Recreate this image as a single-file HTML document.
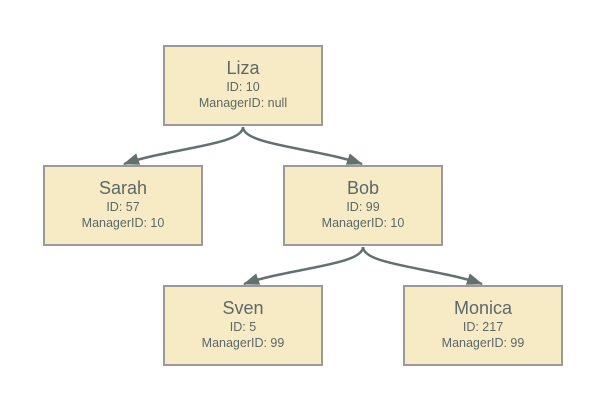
<!DOCTYPE html>
<html><head><style>
body{margin:0;width:595px;height:406px;background:#fff;position:relative;font-family:"Liberation Sans",sans-serif;color:#5d6869}
.b{position:absolute;width:156px;height:77px;background:#f6ebc5;border:2px solid #9a9a9a;text-align:center}
.n{font-size:18px;margin-top:10px;line-height:22px}
.s{font-size:12.5px;line-height:16px}
svg{position:absolute;left:0;top:0}
</style></head><body>
<svg width="595" height="406">
<defs><marker id="a" markerWidth="16" markerHeight="12" refX="15" refY="6" orient="auto" markerUnits="userSpaceOnUse" viewBox="0 0 16 12"><path d="M0,0L16,6L0,12z" fill="#627070"/></marker></defs>
<g fill="none" stroke="#627070" stroke-width="2.5">
<path d="M243,127 C243,145 170,148 124,164" marker-end="url(#a)"/>
<path d="M243,127 C243,145 316,148 362,164" marker-end="url(#a)"/>
<path d="M363,247 C363,265 290,268 244,284" marker-end="url(#a)"/>
<path d="M363,247 C363,265 436,268 482,284" marker-end="url(#a)"/>
</g></svg>
<div class="b" style="left:163px;top:45px"><div class="n">Liza</div><div class="s">ID: 10</div><div class="s">ManagerID: null</div></div>
<div class="b" style="left:43px;top:165px"><div class="n">Sarah</div><div class="s">ID: 57</div><div class="s">ManagerID: 10</div></div>
<div class="b" style="left:283px;top:165px"><div class="n">Bob</div><div class="s">ID: 99</div><div class="s">ManagerID: 10</div></div>
<div class="b" style="left:163px;top:285px"><div class="n">Sven</div><div class="s">ID: 5</div><div class="s">ManagerID: 99</div></div>
<div class="b" style="left:403px;top:285px"><div class="n">Monica</div><div class="s">ID: 217</div><div class="s">ManagerID: 99</div></div>
</body></html>
